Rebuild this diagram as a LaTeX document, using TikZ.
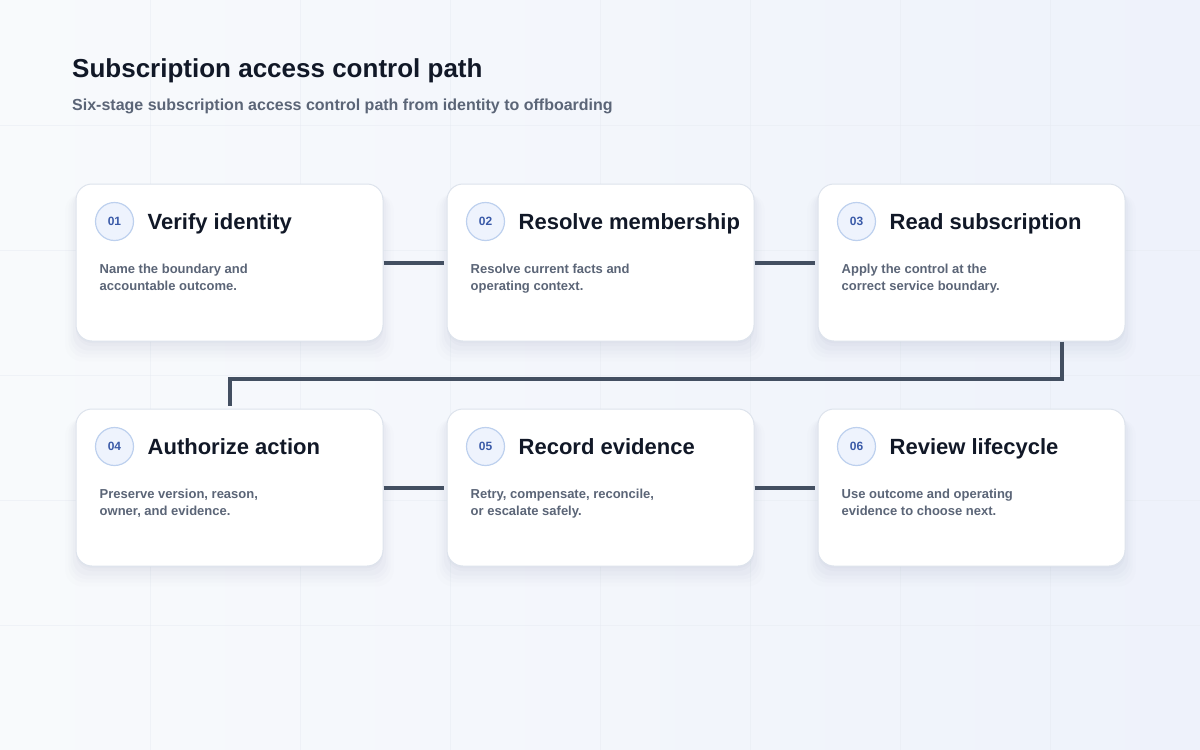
\documentclass[tikz,border=0pt]{standalone}
\usepackage{fontspec}
\setmainfont{Liberation Sans}
\usetikzlibrary{calc,shadows}

\definecolor{bgA}{HTML}{F8FAFC}
\definecolor{bgB}{HTML}{EEF2FB}
\definecolor{gridc}{HTML}{E6EAF2}
\definecolor{ink}{HTML}{111827}
\definecolor{muted}{HTML}{5B6577}
\definecolor{cardline}{HTML}{DDE3EC}
\definecolor{shadowc}{HTML}{7F8BAA}
\definecolor{badgefill}{HTML}{EEF3FD}
\definecolor{badgeline}{HTML}{BDD0EE}
\definecolor{badgetext}{HTML}{3A5AA8}
\definecolor{linkc}{HTML}{434F61}

\begin{document}
\begin{tikzpicture}[x=1pt,y=-1pt,
    card/.style={draw=cardline, line width=1pt, fill=white, rounded corners=16pt,
        minimum width=307pt, minimum height=157pt,
        general shadow={shadow yshift=-14pt, shadow scale=1.07, opacity=.015, fill=shadowc},
        general shadow={shadow yshift=-12pt, shadow scale=1.05, opacity=.02, fill=shadowc},
        general shadow={shadow yshift=-10pt, shadow scale=1.035, opacity=.025, fill=shadowc},
        general shadow={shadow yshift=-8pt, shadow scale=1.02, opacity=.03, fill=shadowc},
        general shadow={shadow yshift=-5pt, opacity=.035, fill=shadowc},
        general shadow={shadow yshift=-2pt, opacity=.04, fill=shadowc}},
    badge/.style={circle, draw=badgeline, line width=1.2pt, fill=badgefill,
        minimum size=38pt, inner sep=0pt, text=badgetext,
        font=\fontsize{12}{12}\selectfont\bfseries},
    head/.style={anchor=base west, inner sep=0pt, text=ink,
        font=\fontsize{22}{26}\selectfont\bfseries},
    body/.style={anchor=north west, inner sep=0pt, align=left, text=muted,
        font=\fontsize{13}{16.5}\selectfont\bfseries},
    link/.style={draw=linkc, line width=4pt, shorten >=3pt},
    gridline/.style={draw=gridc, line width=1pt, opacity=.45}]

    \useasboundingbox (0,0) rectangle (1200,750);
    \fill[left color=bgA, right color=bgB] (0,0) rectangle (1200,750);
    \foreach \gx in {150,300,...,1050} \draw[gridline] (\gx,0) -- (\gx,750);
    \foreach \gy in {125,250,...,625} \draw[gridline] (0,\gy) -- (1200,\gy);

    \node[anchor=base west, inner sep=0pt, text=ink, font=\fontsize{26}{30}\selectfont\bfseries]
        (title) at (72,77) {Subscription access control path};
    \node[anchor=base west, inner sep=0pt, text=muted, font=\fontsize{16}{19}\selectfont\bfseries]
        (subtitle) at (72,110) {Six-stage subscription access control path from identity to offboarding};

    % top row
    \node[card] (s1) at (229.5,262.5) {};
    \node[card] (s2) at (600.5,262.5) {};
    \node[card] (s3) at (971.5,262.5) {};

    % bottom row
    \node[card] (s4) at (229.5,487.5) {};
    \node[card] (s5) at (600.5,487.5) {};
    \node[card] (s6) at (971.5,487.5) {};

    \node[badge] (b1) at ($(s1.north west)+(39,38)$) {01};
    \node[head] (t1) at ($(s1.north west)+(72,46)$) {Verify identity};
    \node[body] (d1) at ($(s1.north west)+(24,80.5)$) {Name the boundary and\\accountable outcome.};

    \node[badge] (b2) at ($(s2.north west)+(39,38)$) {02};
    \node[head] (t2) at ($(s2.north west)+(72,46)$) {Resolve membership};
    \node[body] (d2) at ($(s2.north west)+(24,80.5)$) {Resolve current facts and\\operating context.};

    \node[badge] (b3) at ($(s3.north west)+(39,38)$) {03};
    \node[head] (t3) at ($(s3.north west)+(72,46)$) {Read subscription};
    \node[body] (d3) at ($(s3.north west)+(24,80.5)$) {Apply the control at the\\correct service boundary.};

    \node[badge] (b4) at ($(s4.north west)+(39,38)$) {04};
    \node[head] (t4) at ($(s4.north west)+(72,46)$) {Authorize action};
    \node[body] (d4) at ($(s4.north west)+(24,80.5)$) {Preserve version, reason,\\owner, and evidence.};

    \node[badge] (b5) at ($(s5.north west)+(39,38)$) {05};
    \node[head] (t5) at ($(s5.north west)+(72,46)$) {Record evidence};
    \node[body] (d5) at ($(s5.north west)+(24,80.5)$) {Retry, compensate, reconcile,\\or escalate safely.};

    \node[badge] (b6) at ($(s6.north west)+(39,38)$) {06};
    \node[head] (t6) at ($(s6.north west)+(72,46)$) {Review lifecycle};
    \node[body] (d6) at ($(s6.north west)+(24,80.5)$) {Use outcome and operating\\evidence to choose next.};

    % connectors
    \draw[link] (s1.east) -- (s2.west);
    \draw[link] (s2.east) -- (s3.west);
    \coordinate (bend) at (1062,379);
    \draw[link] (s3.south -| bend) -- (bend) -| (s4.north);
    \draw[link] (s4.east) -- (s5.west);
    \draw[link] (s5.east) -- (s6.west);

\end{tikzpicture}
\end{document}
